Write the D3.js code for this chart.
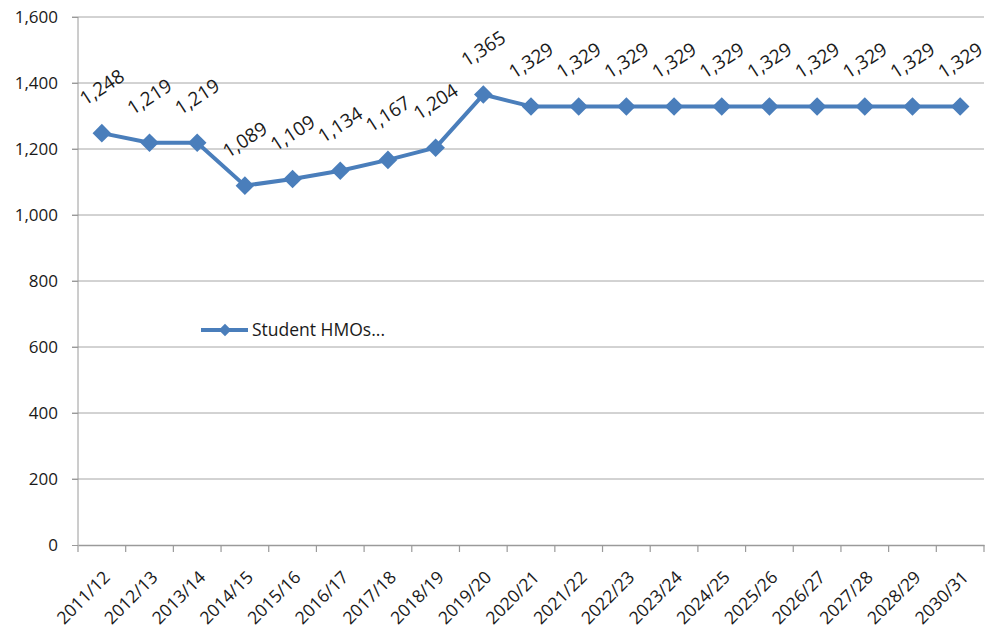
<!DOCTYPE html>
<html><head><meta charset="utf-8">
<script src="https://cdn.jsdelivr.net/npm/d3@7"></script>
<style>body{margin:0;background:#fff}text{font-family:"Open Sans","Noto Sans",sans-serif;fill:#1a1a1a}</style>
</head><body><svg id="c" width="987" height="629"></svg>
<script>
const categories = ["2011/12","2012/13","2013/14","2014/15","2015/16","2016/17","2017/18","2018/19","2019/20","2020/21","2021/22","2022/23","2023/24","2024/25","2025/26","2026/27","2027/28","2028/29","2030/31"];
const values = [1248,1219,1219,1089,1109,1134,1167,1204,1365,1329,1329,1329,1329,1329,1329,1329,1329,1329,1329];
const yTicks = [0,200,400,600,800,1000,1200,1400,1600];
const seriesName = "Student HMOs...";

const svg = d3.select("#c");
const L = 78, R = 984, T = 17, B = 545;
const x = d3.scaleBand().domain(categories).range([L, R]);
const y = d3.scaleLinear().domain([0, 1600]).range([B, T]);
const fmt = d3.format(",");
const blue = "#4a7ebb";

// gridlines
svg.append("g").selectAll("line").data(yTicks.filter(d=>d>0)).join("line")
  .attr("x1", L-6).attr("x2", R).attr("y1", d=>y(d)).attr("y2", d=>y(d))
  .attr("stroke", "#a6a6a6").attr("stroke-width", 1);

// y axis
const ya = svg.append("g").attr("transform", `translate(${L},0)`)
  .call(d3.axisLeft(y).tickValues(yTicks).tickFormat(fmt).tickSize(6).tickPadding(14));
ya.select(".domain").attr("stroke", "#9a9a9a").attr("d", `M0,${T}V${B}`);
ya.selectAll(".tick line").attr("stroke", "#9a9a9a");
ya.selectAll("text").style("font-size", "17px").attr("fill", "#1a1a1a");

// x axis
const xa = svg.append("g").attr("transform", `translate(0,${B})`)
  .call(d3.axisBottom(x).tickSize(0).tickPadding(0));
xa.select(".domain").attr("stroke", "#9a9a9a").attr("stroke-width", 1.5);
xa.selectAll(".tick line").remove();
xa.selectAll(".tick text").style("font-size", "17.5px").attr("fill", "#1a1a1a")
  .attr("text-anchor", "end").attr("dy", "0.35em").attr("y", 0)
  .attr("transform", "translate(5,29) rotate(-45)");
// boundary ticks
const bnd = categories.map(c=>x(c)).concat([R]);
svg.append("g").selectAll("line").data(bnd).join("line")
  .attr("x1", d=>d).attr("x2", d=>d).attr("y1", B).attr("y2", B+7)
  .attr("stroke", "#9a9a9a").attr("stroke-width", 1.2);

const cx = d => x(d) + x.bandwidth()/2;
const line = d3.line().x((d,i)=>cx(categories[i])).y(d=>y(d));
svg.append("path").datum(values).attr("d", line)
  .attr("fill", "none").attr("stroke", blue).attr("stroke-width", 4).attr("stroke-linejoin", "round");

const diamond = d3.symbol().type(d3.symbolDiamond2).size(220);
svg.append("g").selectAll("path").data(values).join("path")
  .attr("d", diamond)
  .attr("transform", (d,i)=>`translate(${cx(categories[i])},${y(d)})`)
  .attr("fill", blue);

// data labels
svg.append("g").selectAll("text").data(values).join("text")
  .attr("transform", (d,i)=>`translate(${cx(categories[i])},${y(d)-46}) rotate(-33)`)
  .attr("text-anchor", "middle").attr("dy", "0.35em")
  .style("font-size", "19px").text(d=>fmt(d));

// legend
const lg = svg.append("g").attr("transform", "translate(201,330)");
lg.append("line").attr("x1", 0).attr("x2", 47).attr("stroke", blue).attr("stroke-width", 4);
lg.append("path").attr("d", d3.symbol().type(d3.symbolDiamond2).size(100)).attr("transform", "translate(24,0)").attr("fill", blue);
lg.append("text").attr("x", 51).attr("dy", "0.35em").style("font-size", "17.5px").text(seriesName);
</script></body></html>
